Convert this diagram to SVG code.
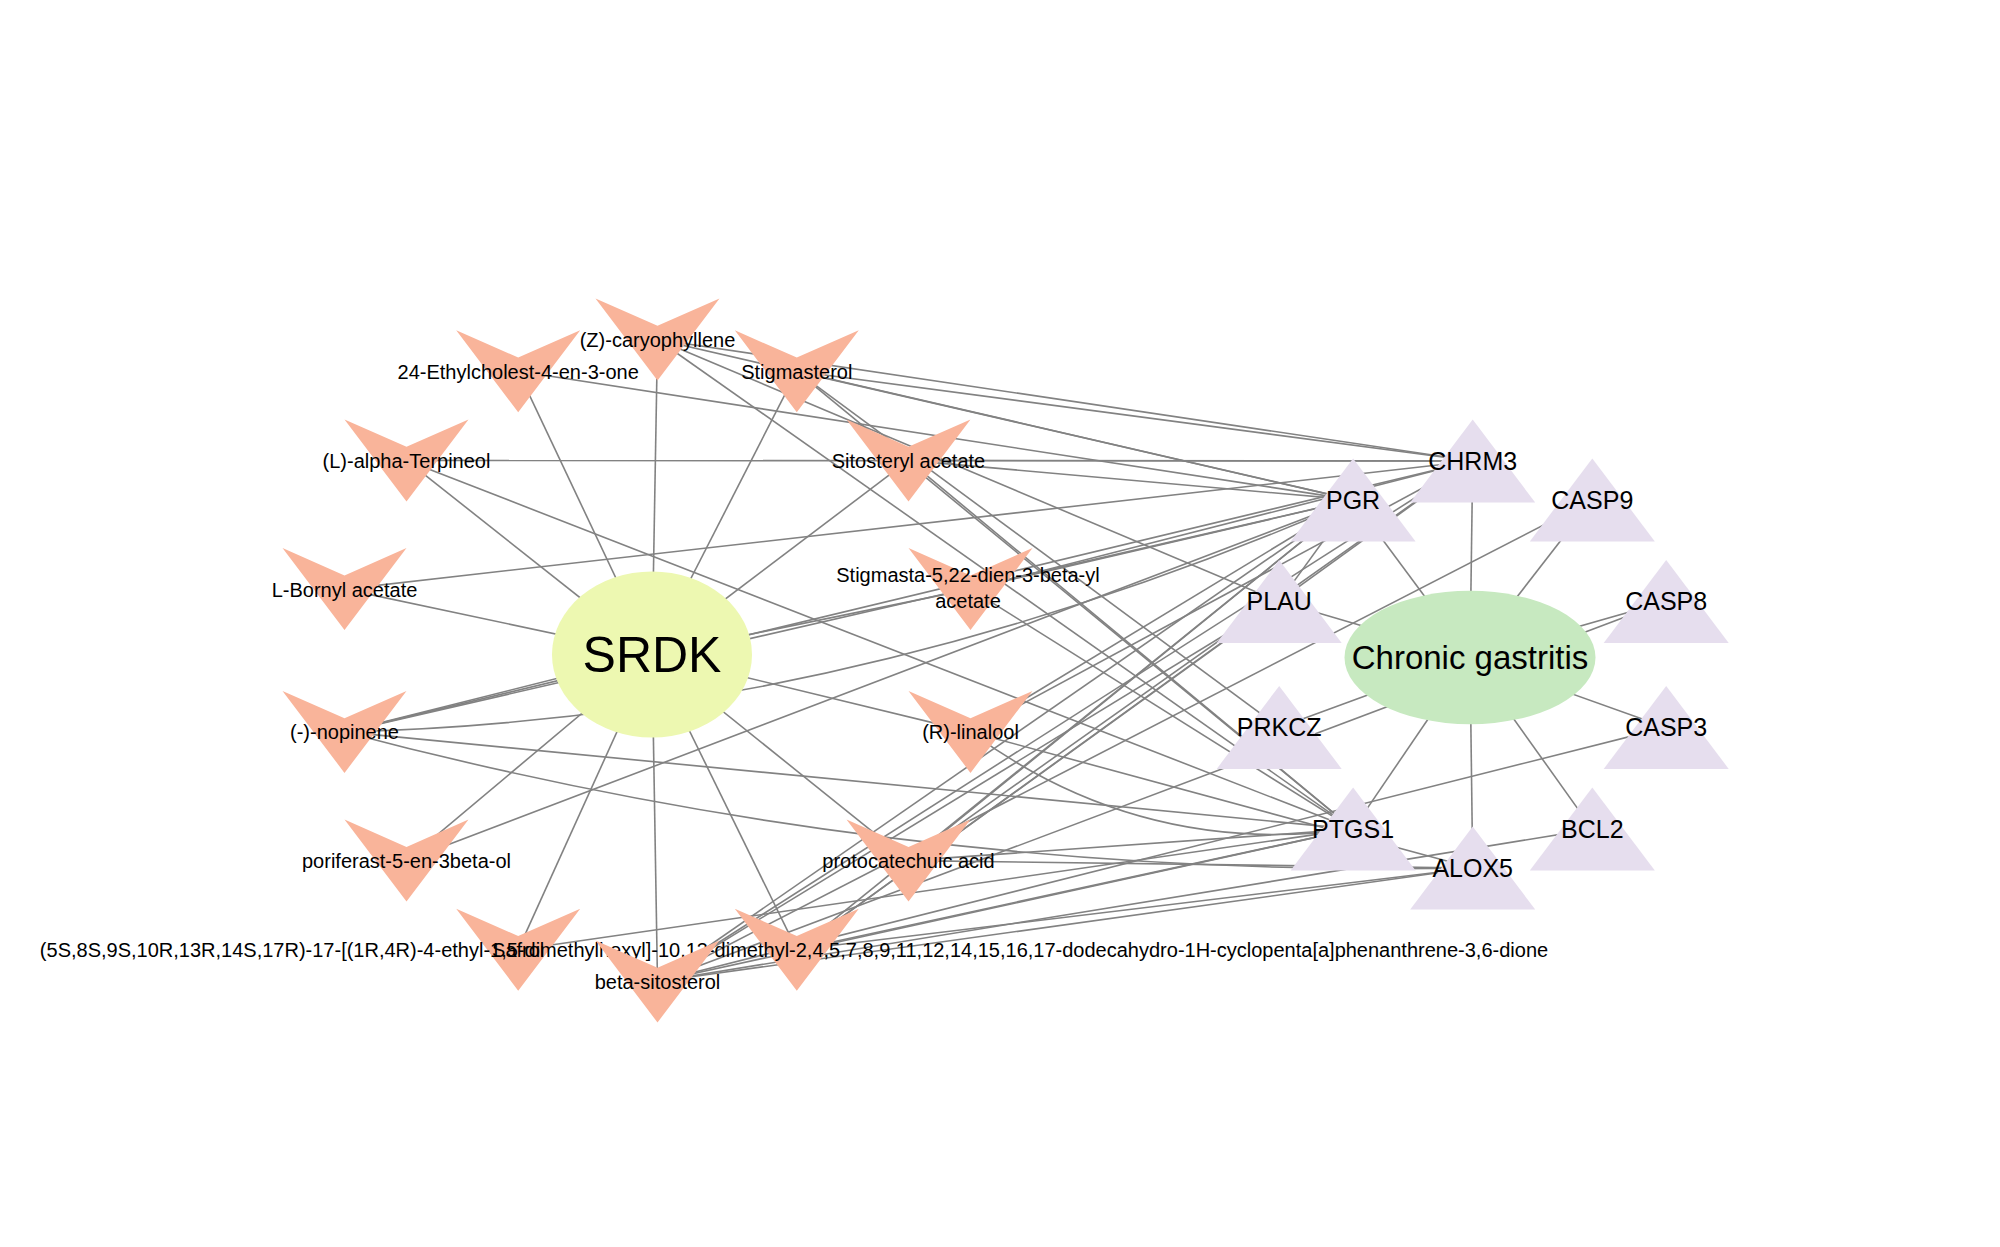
<svg xmlns="http://www.w3.org/2000/svg" width="2000" height="1247" viewBox="0 0 2000 1247">
<defs>
<style>
.e{stroke:#828282;stroke-width:1.6;fill:none}
.cmp{fill:#F9B49A}
.tgt{fill:#E6DEEE}
.lbl{font-family:"Liberation Sans",Arial,sans-serif;font-size:20px;fill:#000;text-anchor:middle}
.tl{font-family:"Liberation Sans",Arial,sans-serif;font-size:25px;fill:#000;text-anchor:middle}
</style>
<polygon id="vs" points="-62,-41 0,-13.7 62,-41 0,41"/>
<polygon id="tri" points="-62.5,41.5 0,-41.5 62.5,41.5"/>
</defs>
<rect width="2000" height="1247" fill="#fff"/>
<g id="edges">
<line class="e" x1="652" y1="654.5" x2="657.5" y2="339.5"/>
<line class="e" x1="652" y1="654.5" x2="796.8" y2="371.3"/>
<line class="e" x1="652" y1="654.5" x2="908.5" y2="460.4"/>
<line class="e" x1="652" y1="654.5" x2="970.5" y2="589.1"/>
<line class="e" x1="652" y1="654.5" x2="970.5" y2="731.9"/>
<line class="e" x1="652" y1="654.5" x2="908.5" y2="860.6"/>
<line class="e" x1="652" y1="654.5" x2="796.8" y2="949.7"/>
<line class="e" x1="652" y1="654.5" x2="657.5" y2="981.5"/>
<line class="e" x1="652" y1="654.5" x2="518.2" y2="949.7"/>
<line class="e" x1="652" y1="654.5" x2="406.5" y2="860.6"/>
<line class="e" x1="652" y1="654.5" x2="344.5" y2="731.9"/>
<line class="e" x1="652" y1="654.5" x2="344.5" y2="589.1"/>
<line class="e" x1="652" y1="654.5" x2="406.5" y2="460.4"/>
<line class="e" x1="652" y1="654.5" x2="518.2" y2="371.3"/>
<line class="e" x1="1470" y1="657.5" x2="1472.7" y2="461"/>
<line class="e" x1="1470" y1="657.5" x2="1592.3" y2="499.9"/>
<line class="e" x1="1470" y1="657.5" x2="1666.2" y2="601.6"/>
<line class="e" x1="1470" y1="657.5" x2="1666.2" y2="727.4"/>
<line class="e" x1="1470" y1="657.5" x2="1592.3" y2="829.1"/>
<line class="e" x1="1470" y1="657.5" x2="1472.7" y2="868"/>
<line class="e" x1="1470" y1="657.5" x2="1353.1" y2="829.1"/>
<line class="e" x1="1470" y1="657.5" x2="1279.2" y2="727.4"/>
<line class="e" x1="1470" y1="657.5" x2="1279.2" y2="601.6"/>
<line class="e" x1="1470" y1="657.5" x2="1353.1" y2="499.9"/>
<line class="e" x1="1279.2" y1="601.6" x2="1353.1" y2="499.9"/>
<line class="e" x1="657.5" y1="339.5" x2="1472.7" y2="461"/>
<line class="e" x1="657.5" y1="339.5" x2="1353.1" y2="499.9"/>
<line class="e" x1="657.5" y1="339.5" x2="1279.2" y2="601.6"/>
<line class="e" x1="657.5" y1="339.5" x2="1353.1" y2="829.1"/>
<line class="e" x1="796.8" y1="371.3" x2="1472.7" y2="461"/>
<line class="e" x1="796.8" y1="371.3" x2="1353.1" y2="499.9"/>
<line class="e" x1="796.8" y1="371.3" x2="1353.1" y2="829.1"/>
<line class="e" x1="796.8" y1="371.3" x2="1279.2" y2="727.4"/>
<line class="e" x1="908.5" y1="460.4" x2="1472.7" y2="461"/>
<line class="e" x1="908.5" y1="460.4" x2="1353.1" y2="499.9"/>
<line class="e" x1="908.5" y1="460.4" x2="1353.1" y2="829.1"/>
<line class="e" x1="970.5" y1="589.1" x2="1472.7" y2="461"/>
<line class="e" x1="970.5" y1="589.1" x2="1353.1" y2="499.9"/>
<line class="e" x1="970.5" y1="589.1" x2="1353.1" y2="829.1"/>
<line class="e" x1="970.5" y1="731.9" x2="1472.7" y2="461"/>
<line class="e" x1="970.5" y1="731.9" x2="1353.1" y2="499.9"/>
<path class="e" d="M970.5,731.9 Q1142,858 1353.1,829.1"/>
<line class="e" x1="970.5" y1="731.9" x2="1472.7" y2="868"/>
<line class="e" x1="908.5" y1="860.6" x2="1472.7" y2="461"/>
<line class="e" x1="908.5" y1="860.6" x2="1353.1" y2="499.9"/>
<line class="e" x1="908.5" y1="860.6" x2="1353.1" y2="829.1"/>
<line class="e" x1="908.5" y1="860.6" x2="1472.7" y2="868"/>
<line class="e" x1="796.8" y1="949.7" x2="1472.7" y2="461"/>
<line class="e" x1="796.8" y1="949.7" x2="1353.1" y2="499.9"/>
<line class="e" x1="796.8" y1="949.7" x2="1279.2" y2="601.6"/>
<line class="e" x1="796.8" y1="949.7" x2="1353.1" y2="829.1"/>
<line class="e" x1="796.8" y1="949.7" x2="1472.7" y2="868"/>
<line class="e" x1="657.5" y1="981.5" x2="1472.7" y2="461"/>
<line class="e" x1="657.5" y1="981.5" x2="1353.1" y2="499.9"/>
<line class="e" x1="657.5" y1="981.5" x2="1279.2" y2="601.6"/>
<line class="e" x1="657.5" y1="981.5" x2="1592.3" y2="499.9"/>
<line class="e" x1="657.5" y1="981.5" x2="1666.2" y2="601.6"/>
<line class="e" x1="657.5" y1="981.5" x2="1666.2" y2="727.4"/>
<line class="e" x1="657.5" y1="981.5" x2="1592.3" y2="829.1"/>
<line class="e" x1="657.5" y1="981.5" x2="1353.1" y2="829.1"/>
<line class="e" x1="657.5" y1="981.5" x2="1472.7" y2="868"/>
<line class="e" x1="518.2" y1="949.7" x2="1353.1" y2="829.1"/>
<line class="e" x1="406.5" y1="860.6" x2="1353.1" y2="499.9"/>
<line class="e" x1="344.5" y1="731.9" x2="1472.7" y2="461"/>
<line class="e" x1="344.5" y1="731.9" x2="1353.1" y2="499.9"/>
<path class="e" d="M344.5,731.9 Q848.8,720 1353.1,499.9"/>
<line class="e" x1="344.5" y1="731.9" x2="1353.1" y2="829.1"/>
<path class="e" d="M344.5,731.9 Q899,879 1472.7,868"/>
<line class="e" x1="344.5" y1="589.1" x2="1472.7" y2="461"/>
<line class="e" x1="406.5" y1="460.4" x2="1472.7" y2="461"/>
<line class="e" x1="406.5" y1="460.4" x2="1353.1" y2="829.1"/>
<line class="e" x1="518.2" y1="371.3" x2="1353.1" y2="499.9"/>
</g>
<g id="n-SRDK"><ellipse cx="652" cy="654.5" rx="100" ry="83" fill="#EDF8B1"/><text x="652" y="672" font-family="Liberation Sans, Arial, sans-serif" font-size="50" text-anchor="middle">SRDK</text></g>
<g id="n-CG"><ellipse cx="1470" cy="657.5" rx="125.5" ry="66.7" fill="#C7E9C0"/><text x="1470" y="669" font-family="Liberation Sans, Arial, sans-serif" font-size="33" text-anchor="middle">Chronic gastritis</text></g>
<g id="n-CHRM3"><use href="#tri" class="tgt" x="1472.7" y="461"/><text class="tl" x="1472.7" y="469.7">CHRM3</text></g>
<g id="n-CASP9"><use href="#tri" class="tgt" x="1592.3" y="499.9"/><text class="tl" x="1592.3" y="508.6">CASP9</text></g>
<g id="n-CASP8"><use href="#tri" class="tgt" x="1666.2" y="601.6"/><text class="tl" x="1666.2" y="610.3">CASP8</text></g>
<g id="n-CASP3"><use href="#tri" class="tgt" x="1666.2" y="727.4"/><text class="tl" x="1666.2" y="736.1">CASP3</text></g>
<g id="n-BCL2"><use href="#tri" class="tgt" x="1592.3" y="829.1"/><text class="tl" x="1592.3" y="837.8">BCL2</text></g>
<g id="n-PTGS1"><use href="#tri" class="tgt" x="1353.1" y="829.1"/><text class="tl" x="1353.1" y="837.8">PTGS1</text></g>
<g id="n-ALOX5"><use href="#tri" class="tgt" x="1472.7" y="868"/><text class="tl" x="1472.7" y="876.7">ALOX5</text></g>
<g id="n-PRKCZ"><use href="#tri" class="tgt" x="1279.2" y="727.4"/><text class="tl" x="1279.2" y="736.1">PRKCZ</text></g>
<g id="n-PLAU"><use href="#tri" class="tgt" x="1279.2" y="601.6"/><text class="tl" x="1279.2" y="610.3">PLAU</text></g>
<g id="n-PGR"><use href="#tri" class="tgt" x="1353.1" y="499.9"/><text class="tl" x="1353.1" y="508.6">PGR</text></g>
<g id="n-caryophyllene"><use href="#vs" class="cmp" x="657.5" y="339.5"/><text class="lbl" x="657.5" y="347">(Z)-caryophyllene</text></g>
<g id="n-stigmasterol"><use href="#vs" class="cmp" x="796.8" y="371.3"/><text class="lbl" x="796.8" y="378.8">Stigmasterol</text></g>
<g id="n-sitosteryl"><use href="#vs" class="cmp" x="908.5" y="460.4"/><text class="lbl" x="908.5" y="467.9">Sitosteryl acetate</text></g>
<g id="n-stigmasta"><use href="#vs" class="cmp" x="970.5" y="589.1"/><text class="lbl" x="968" y="581.7">Stigmasta-5,22-dien-3-beta-yl</text><text class="lbl" x="968" y="608.3">acetate</text></g>
<g id="n-linalool"><use href="#vs" class="cmp" x="970.5" y="731.9"/><text class="lbl" x="970.5" y="739.4">(R)-linalool</text></g>
<g id="n-protocatechuic"><use href="#vs" class="cmp" x="908.5" y="860.6"/><text class="lbl" x="908.5" y="868.1">protocatechuic acid</text></g>
<g id="n-ethylcholest"><use href="#vs" class="cmp" x="518.2" y="371.3"/><text class="lbl" x="518.2" y="378.8">24-Ethylcholest-4-en-3-one</text></g>
<g id="n-terpineol"><use href="#vs" class="cmp" x="406.5" y="460.4"/><text class="lbl" x="406.5" y="467.9">(L)-alpha-Terpineol</text></g>
<g id="n-bornyl"><use href="#vs" class="cmp" x="344.5" y="589.1"/><text class="lbl" x="344.5" y="596.6">L-Bornyl acetate</text></g>
<g id="n-nopinene"><use href="#vs" class="cmp" x="344.5" y="731.9"/><text class="lbl" x="344.5" y="739.4">(-)-nopinene</text></g>
<g id="n-poriferast"><use href="#vs" class="cmp" x="406.5" y="860.6"/><text class="lbl" x="406.5" y="868.1">poriferast-5-en-3beta-ol</text></g>
<g id="n-safrol"><use href="#vs" class="cmp" x="518.2" y="949.7"/><text class="lbl" x="518.2" y="957.2">Safrol</text></g>
<g id="n-dione"><use href="#vs" class="cmp" x="796.8" y="949.7"/><text class="lbl" x="794" y="957.2">(5S,8S,9S,10R,13R,14S,17R)-17-[(1R,4R)-4-ethyl-1,5-dimethylhexyl]-10,13-dimethyl-2,4,5,7,8,9,11,12,14,15,16,17-dodecahydro-1H-cyclopenta[a]phenanthrene-3,6-dione</text></g>
<g id="n-sitosterol"><use href="#vs" class="cmp" x="657.5" y="981.5"/><text class="lbl" x="657.5" y="989">beta-sitosterol</text></g>
</svg>
